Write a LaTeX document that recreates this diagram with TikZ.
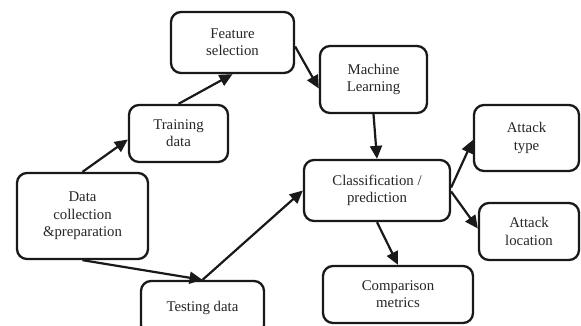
\documentclass[tikz,border=0pt]{standalone}
\usepackage{fontspec}
\setmainfont{Liberation Serif}
\usetikzlibrary{arrows.meta}
\begin{document}
\begin{tikzpicture}[x=1pt,y=-1pt,
  box/.style={draw=black!90, line width=2.3pt, rounded corners=10pt, align=center,
    inner sep=2pt, font=\fontsize{14.8}{17.3}\selectfont, text=black!85},
  arr/.style={draw=black!90, line width=2.2pt, -{Triangle[length=13pt,width=12pt]}}]
\useasboundingbox (0,0) rectangle (581,325);
\clip (0,0) rectangle (581,325);
\fill[white] (0,0) rectangle (581,325);
\node[box, minimum width=131pt, minimum height=86pt] (dc) at (82.5,216) {Data\\collection\\\&preparation};
\node[box, minimum width=99pt, minimum height=57pt] (train) at (178.5,133.5) {Training\\data};
\node[box, minimum width=123pt, minimum height=61pt] (feat) at (232.5,42.5) {Feature\\selection};
\node[box, minimum width=107pt, minimum height=67pt] (ml) at (373.5,79.5) {Machine\\Learning};
\node[box, minimum width=146pt, minimum height=61pt] (cls) at (377,190.5) {Classification /\\prediction};
\node[box, minimum width=105pt, minimum height=66pt] (atype) at (526.5,138) {Attack\\type};
\node[box, minimum width=100pt, minimum height=57pt] (aloc) at (529,231.5) {Attack\\location};
\node[box, minimum width=150pt, minimum height=57pt] (cmp) at (398,294.5) {Comparison\\metrics};
\node[box, minimum width=123pt, minimum height=54pt] (test) at (202.5,308) {Testing data};
\draw[arr] (dc.north) -- ([yshift=-6pt]train.west);
\draw[arr] (train.north) -- (feat.south);
\draw[arr] ([yshift=-4pt]feat.east) -- ([yshift=-9pt]ml.west);
\draw[arr] (ml.south) -- (cls.north);
\draw[arr] ([yshift=3pt]cls.east) -- ([yshift=-2pt]atype.west);
\draw[arr] ([yshift=-1pt]cls.east) -- ([yshift=3pt]aloc.west);
\draw[arr] (cls.south) -- (cmp.north);
\draw[arr] (dc.south) -- (test.north);
\draw[arr] (test.north) -- (cls.west);
\end{tikzpicture}
\end{document}
